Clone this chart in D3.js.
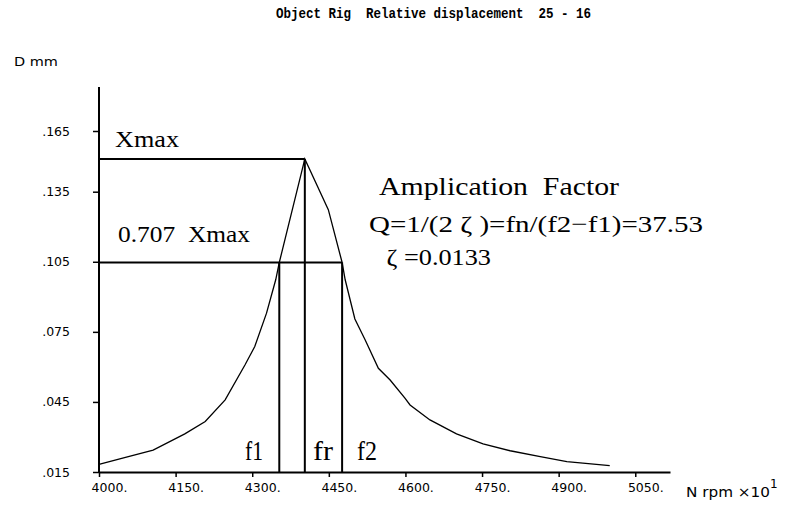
<!DOCTYPE html>
<html><head><meta charset="utf-8">
<script src="https://cdn.jsdelivr.net/npm/d3@7/dist/d3.min.js"></script>
<style>body{margin:0;background:#fff}svg{display:block}text{white-space:pre}</style>
</head><body>
<svg id="c" width="789" height="505"></svg>
<script>
// ---- data ----
const rpm  = [4000, 4050, 4106, 4168, 4208, 4247, 4286, 4305, 4328, 4346, 4353, 4403,
              4449, 4476, 4482, 4501, 4521, 4547, 4570, 4599, 4609, 4648, 4700, 4752, 4805, 4864, 4916, 5000];
const disp = [0.0183, 0.0212, 0.0244, 0.0313, 0.0366, 0.0459, 0.0609, 0.0687, 0.0830, 0.0973, 0.1047, 0.1512,
              0.1273, 0.1047, 0.0973, 0.0805, 0.0716, 0.0594, 0.0544, 0.0466, 0.0437, 0.0373, 0.0313, 0.0270, 0.0241, 0.0216, 0.0194, 0.0177];
const xTicks = [4000, 4150, 4300, 4450, 4600, 4750, 4900, 5050];
const yTicks = [0.015, 0.045, 0.075, 0.105, 0.135, 0.165];
const yTickLabels = [".015", ".045", ".075", ".105", ".135", ".165"];
const freqNames = ["f1", "fr", "f2"];
const freqValues = [4353, 4403, 4476];
const xMax = 0.1512;
const x707 = 0.1047;
const titleText = "Object Rig  Relative displacement  25 - 16";
const yAxisLabel = "D mm";
const xAxisLabel = "N rpm \u00d710";
const notes = ["Amplication  Factor", "Q=1/(2 \u03b6 )=fn/(f2\u2212f1)=37.53", " \u03b6 =0.0133"];

// ---- chart ----
const svg = d3.select("#c");
const x = d3.scaleLinear().domain([4000, 5118]).range([99, 670]);
// the scanned axis is slightly compressed in its top interval
const y = d3.scaleLinear().domain([0.015, 0.135, 0.165]).range([472, 191.7, 131]);
const yTop = 0.1867;

// title
svg.append("text").attr("x", 276).attr("y", 18)
  .attr("font-family", "Liberation Mono, monospace").attr("font-weight", "bold")
  .attr("font-size", 14).attr("textLength", 315).attr("lengthAdjust", "spacingAndGlyphs")
  .text(titleText);

// axes
const gx = svg.append("g").attr("transform", `translate(0,${y(0.015)})`)
  .call(d3.axisBottom(x).tickValues(xTicks).tickFormat(d => d + ".").tickSize(5).tickSizeOuter(0).tickPadding(6));
const gy = svg.append("g").attr("transform", `translate(${x(4000)},0)`)
  .call(d3.axisLeft(y).tickValues(yTicks).tickFormat((d, i) => yTickLabels[i]).tickSize(6).tickSizeOuter(0).tickPadding(23));
gy.select(".domain").attr("d", `M0,${y(yTop)}V${y(0.015)}`);
[gx, gy].forEach(g => {
  g.select(".domain").attr("stroke", "#000").attr("stroke-width", 2);
  g.selectAll(".tick line").attr("stroke", "#000").attr("stroke-width", 1.5);
  g.selectAll(".tick text").attr("font-family", "DejaVu Sans, sans-serif").attr("font-size", 12.5).attr("fill", "#000");
});
gx.selectAll(".tick text").attr("dx", 10);

svg.append("text").attr("x", 14).attr("y", 66)
  .attr("font-family", "DejaVu Sans, sans-serif").attr("font-size", 13)
  .attr("textLength", 44).attr("lengthAdjust", "spacingAndGlyphs").text(yAxisLabel);
const xl = svg.append("text").attr("x", 686).attr("y", 497)
  .attr("font-family", "DejaVu Sans, sans-serif").attr("font-size", 13.5);
xl.append("tspan").attr("textLength", 84).attr("lengthAdjust", "spacingAndGlyphs").text(xAxisLabel);
xl.append("tspan").attr("dy", -9).attr("font-size", 12).text("1");

// curve
const pts = rpm.map((r, i) => [r, disp[i]]);
svg.append("path").datum(pts)
  .attr("fill", "none").attr("stroke", "#000").attr("stroke-width", 1.3)
  .attr("d", d3.line().x(d => x(d[0])).y(d => y(d[1])));

// reference lines
const ref = svg.append("g").attr("stroke", "#000").attr("stroke-width", 2);
ref.append("line").attr("x1", x(4000)).attr("x2", x(freqValues[1])).attr("y1", y(xMax)).attr("y2", y(xMax));
ref.append("line").attr("x1", x(4000)).attr("x2", x(freqValues[2])).attr("y1", y(x707)).attr("y2", y(x707));
freqValues.forEach((f, i) => {
  ref.append("line").attr("x1", x(f)).attr("x2", x(f)).attr("y1", y(0.015))
    .attr("y2", y(i === 1 ? xMax : x707));
});

// serif annotations
const serif = "Liberation Serif, Times New Roman, serif";
function note(t, px, py, size, len) {
  svg.append("text").attr("x", px).attr("y", py).attr("font-family", serif)
    .attr("font-size", size).attr("textLength", len).attr("lengthAdjust", "spacingAndGlyphs").text(t);
}
note("Xmax", 115, 147, 24, 64);
note("0.707  Xmax", 118, 242, 23, 132);
note(notes[0], 379, 195, 25, 240);
note(notes[1], 369, 232, 24, 334);
note(notes[2], 380, 265, 24, 111);
const fx = [245, 313, 357], fw = [18, 20, 20];
freqNames.forEach((n, i) => note(n, fx[i], 460, 27, fw[i]));
</script>
</body></html>
